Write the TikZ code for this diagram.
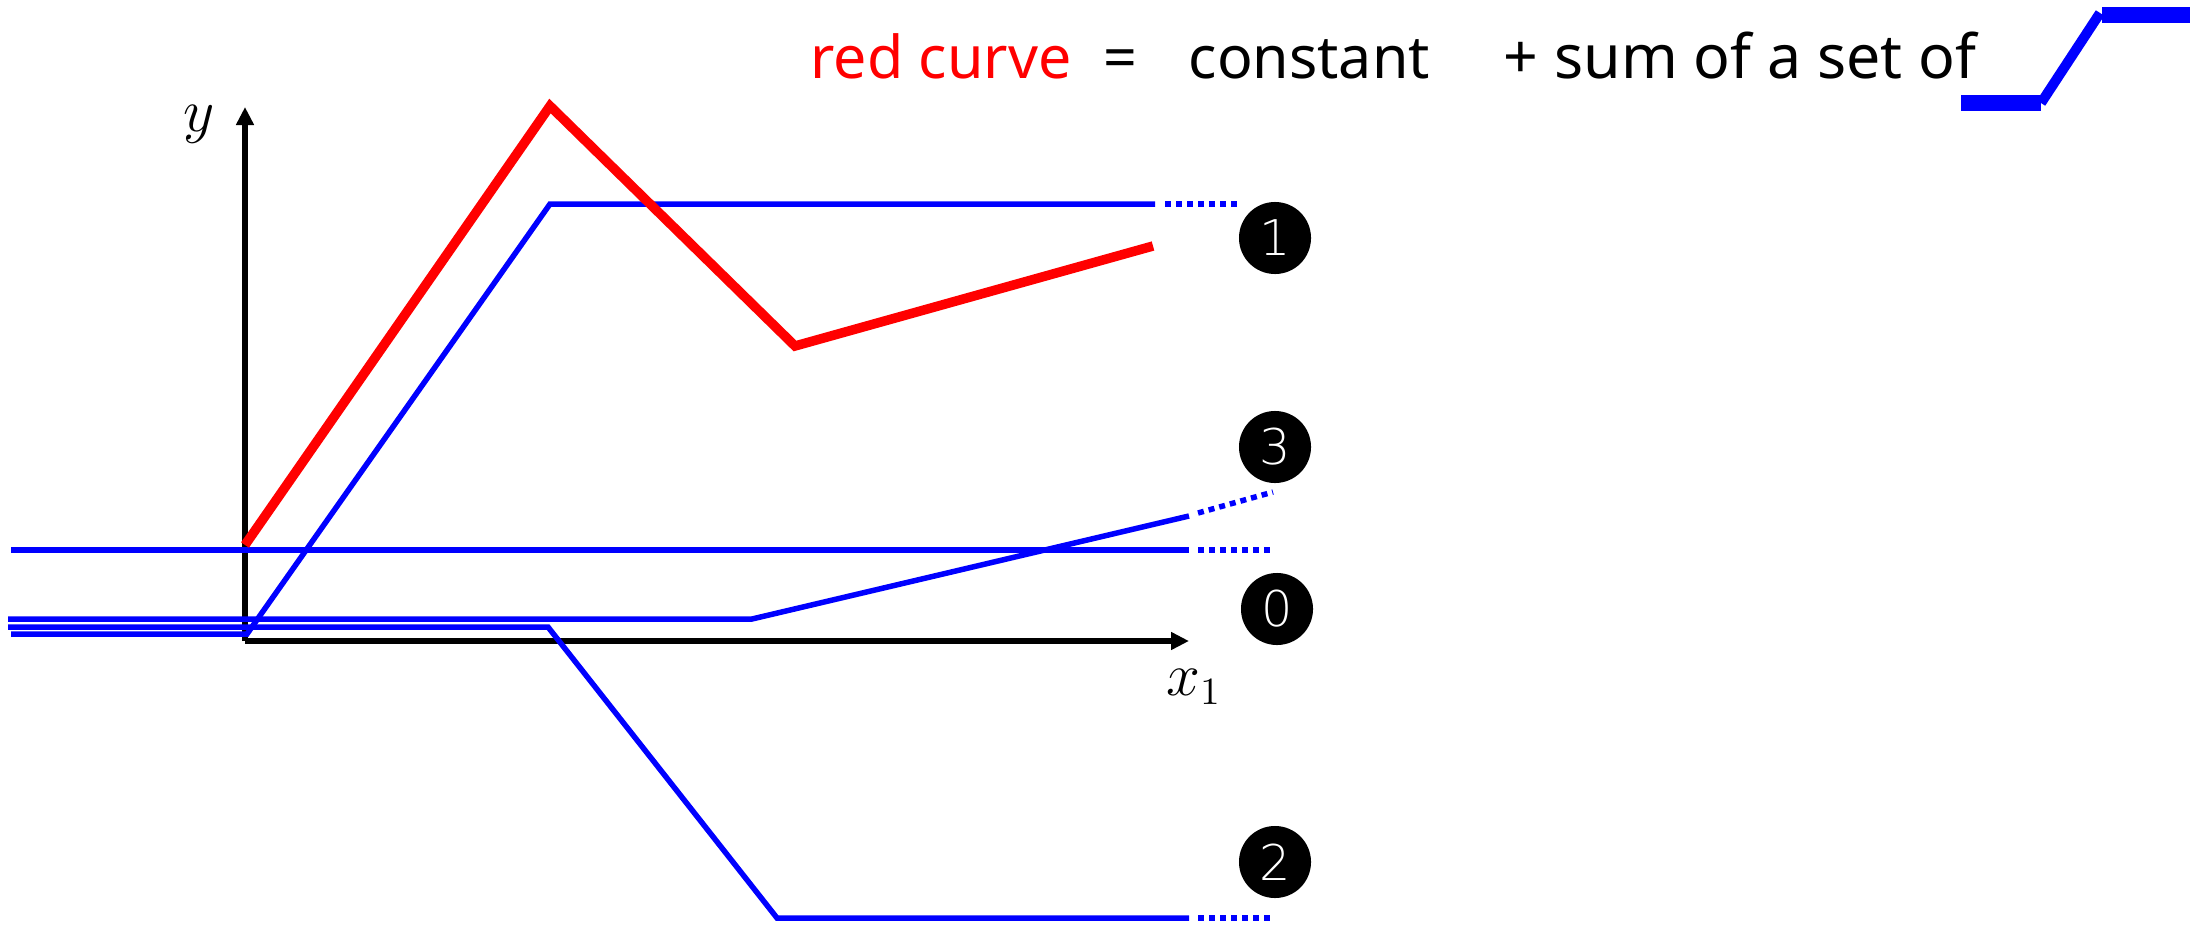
\documentclass[tikz,border=0pt]{standalone}
\usepackage[no-math]{fontspec}
\setmainfont{Noto Sans}
\newfontfamily\badgefont{DejaVu Sans ExtraLight}
\usepackage{tikz}
\usetikzlibrary{arrows.meta}
\definecolor{curvered}{HTML}{FF0000}
\definecolor{rampblue}{HTML}{0000FF}
\tikzstyle{axis} = [-{Triangle[length=0.18cm, width=0.17cm]}, line width=0.055cm, black]
\tikzstyle{ramp} = [line width=0.055cm, rampblue]
\tikzstyle{tail} = [ramp, dash pattern=on 0.06cm off 0.05cm]
\tikzstyle{target} = [line width=0.095cm, curvered, line join=miter]
\tikzstyle{badge} = [circle, fill=black, text=white, minimum size=0.72cm, inner sep=0pt,
    font=\badgefont\fontsize{14}{14}\selectfont]
\tikzstyle{title} = [anchor=base west, inner sep=0pt, font=\fontsize{16.8}{18}\selectfont]

\begin{document}
\begin{tikzpicture}[x=0.01cm, y=-0.01cm]
\useasboundingbox (0,0) rectangle (2212,924);

\node[title, text=curvered] (red) at (810,78) {red curve};
\node[title, anchor=base] (eq) at (1120,78) {=};
\node[title] (const) at (1188,78) {constant};
\node[title, font=\fontsize{17.3}{18}\selectfont] (sum) at (1503,78) {+ sum of a set of};
\draw[rampblue, line width=0.15cm] (1961,103) -- (2041,103);
\draw[rampblue, line width=0.10cm] (2041,103) -- (2100,13);
\draw[rampblue, line width=0.16cm] (2102,15) -- (2190,15);

\coordinate (origin) at (245,641);
\draw[axis] (origin) -- (245,107);
\draw[axis] (origin) -- (1189,641);
\node (ylab) at (199,124) {\fontsize{16}{18}\selectfont$y$};
\node (xlab) at (1194,687) {\fontsize{16}{18}\selectfont$x_1$};

\draw[ramp] (11,550) -- (1189,550);
\draw[tail] (1198,550) -- (1275,550);
\draw[ramp] (11,634) -- (247,634) -- (550,204) -- (1155,204);
\draw[tail] (1165,204) -- (1242,204);
\draw[ramp] (8,627) -- (548,627) -- (777,918) -- (1189,918);
\draw[tail] (1198,918) -- (1275,918);
\draw[ramp] (8,619) -- (752,619) -- (1189,516);
\draw[tail] (1198,513) -- (1273,492);

\draw[target] (245,545) -- (550,106) -- (795,346) -- (1153,246);

\node[badge] (b0) at (1277,609) {0};
\node[badge] (b1) at (1275,238) {1};
\node[badge] (b2) at (1275,862) {2};
\node[badge] (b3) at (1275,447) {3};
\end{tikzpicture}
\end{document}
